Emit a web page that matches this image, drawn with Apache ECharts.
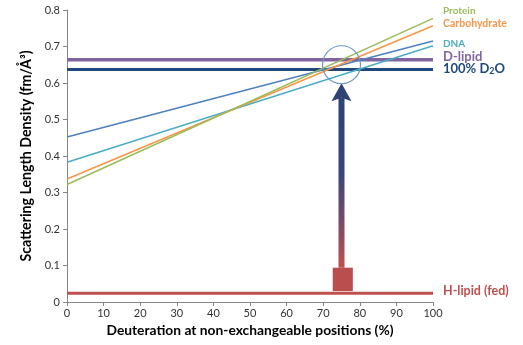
<!DOCTYPE html>
<html>
<head>
<meta charset="utf-8">
<script src="https://cdn.jsdelivr.net/npm/echarts@6/dist/echarts.min.js"></script>
<style>html,body{margin:0;padding:0;background:#fff}#c{width:523px;height:345px}</style>
</head>
<body>
<div id="c"></div>
<script>
// Deuteration (%) endpoints
var xEnds = [0, 100];
// Sloped lines (SLD at 0% and 100% deuteration)
var protein = [0.322, 0.777];
var carbohydrate = [0.337, 0.757];
var dna = [0.383, 0.702];
var otherBlue = [0.452, 0.715];
// Horizontal reference levels
var dLipid = 0.664;
var d2o100 = 0.637;
var hLipid = 0.024;
// Annotation values (data units)
var arrowX = 75;
var arrowBase = 0.094;
var arrowTip = 0.599;
var boxX = [72.6, 78.1];
var boxY = [0.030, 0.094];
var circleCenter = [75, 0.65];
// Axis ticks
var xTicks = [0,10,20,30,40,50,60,70,80,90,100];
var yTicks = [0,0.1,0.2,0.3,0.4,0.5,0.6,0.7,0.8];

function pairs(vals){ return xEnds.map(function(x,i){return [x, vals[i]];}); }
function flat(v){ return xEnds.map(function(x){return [x, v];}); }

var FONT = 'Lato';
var chart = echarts.init(document.getElementById('c'));
var lineBase = {type:'line', symbol:'none', silent:true, animation:false};

chart.setOption({
  animation:false,
  textStyle:{fontFamily:FONT},
  grid:{left:67, right:90, top:10, bottom:43},
  xAxis:{
    type:'value', min:xTicks[0], max:xTicks[xTicks.length-1], interval:10,
    name:'Deuteration at non-exchangeable positions (%)', nameLocation:'middle', nameGap:19,
    nameTextStyle:{fontFamily:FONT, fontWeight:'bold', fontSize:13.8, color:'#000'},
    axisLine:{lineStyle:{color:'#868686', width:1}},
    axisTick:{show:true, length:4, inside:false, lineStyle:{color:'#868686'}},
    axisLabel:{fontSize:11, color:'#333', margin:6},
    splitLine:{show:false}
  },
  yAxis:{
    type:'value', min:yTicks[0], max:yTicks[yTicks.length-1], interval:0.1,
    name:'Scattering Length Density (fm/Å³)', nameLocation:'middle', nameGap:31, nameRotate:90,
    nameTextStyle:{fontFamily:FONT, fontWeight:'bold', fontSize:14.2, color:'#000'},
    axisLine:{show:true, lineStyle:{color:'#868686', width:1}},
    axisTick:{show:true, length:4, lineStyle:{color:'#868686'}},
    axisLabel:{fontSize:11, color:'#333', margin:7, formatter:function(v){return v===0?'0':v.toFixed(1);}},
    splitLine:{show:false}
  },
  series:[
    Object.assign({}, lineBase, {name:'D-lipid', data:flat(dLipid), lineStyle:{color:'#8064A2', width:3.5}, z:2}),
    Object.assign({}, lineBase, {name:'100% D2O', data:flat(d2o100), lineStyle:{color:'#1F497D', width:3.2}, z:2}),
    Object.assign({}, lineBase, {name:'H-lipid (fed)', data:flat(hLipid), lineStyle:{color:'#C0504D', width:3.2}, z:2}),
    Object.assign({}, lineBase, {name:'Series', data:pairs(otherBlue), lineStyle:{color:'#4F81BD', width:1.5}, z:3}),
    Object.assign({}, lineBase, {name:'DNA', data:pairs(dna), lineStyle:{color:'#4BACC6', width:1.5}, z:3}),
    Object.assign({}, lineBase, {name:'Carbohydrate', data:pairs(carbohydrate), lineStyle:{color:'#F79646', width:1.5}, z:3}),
    Object.assign({}, lineBase, {name:'Protein', data:pairs(protein), lineStyle:{color:'#9BBB59', width:1.5}, z:3}),
    {
      type:'custom', silent:true, z:5, animation:false,
      data:[[arrowX, arrowBase]],
      renderItem:function(params, api){
        var base = api.coord([arrowX, arrowBase]);
        var tip = api.coord([arrowX, arrowTip]);
        var b0 = api.coord([boxX[0], boxY[0]]);
        var b1 = api.coord([boxX[1], boxY[1]]);
        var cc = api.coord(circleCenter);
        var headH = 18, headW = 10, notch = 3.5, shaftW = 3;
        var cx = tip[0];
        return {type:'group', children:[
          {type:'rect', shape:{x:b0[0], y:b1[1], width:b1[0]-b0[0], height:b0[1]-b1[1]},
           style:{fill:'#BA4D4D'}},
          {type:'rect', shape:{x:cx-shaftW, y:tip[1]+headH-notch, width:shaftW*2, height:base[1]-(tip[1]+headH-notch)},
           style:{fill:new echarts.graphic.LinearGradient(0,0,0,1,[
             {offset:0,color:'#2E4374'},{offset:0.45,color:'#39457A'},{offset:0.8,color:'#8A4C62'},{offset:1,color:'#BF504F'}])}},
          {type:'polygon', shape:{points:[[cx, tip[1]],[cx+headW, tip[1]+headH],[cx, tip[1]+headH-notch],[cx-headW, tip[1]+headH]]},
           style:{fill:'#2E4374'}},
          {type:'circle', shape:{cx:cc[0], cy:cc[1], r:19},
           style:{fill:null, stroke:'#6A95CE', lineWidth:1.2}}
        ]};
      }
    }
  ],
  graphic:[
    {type:'text', left:443, top:6, style:{text:'Protein', fill:'#9BBB59', font:'bold 10px '+FONT}},
    {type:'text', left:443, top:18, style:{text:'Carbohydrate', fill:'#F79646', font:'bold 10.5px '+FONT}},
    {type:'text', left:443, top:39, style:{text:'DNA', fill:'#4BACC6', font:'bold 10px '+FONT}},
    {type:'text', left:443, top:50, style:{text:'D-lipid', fill:'#8064A2', font:'bold 13px '+FONT}},
    {type:'text', left:443, top:62, style:{
      text:'100% D{s|2}O', fill:'#1F497D', font:'bold 13px '+FONT,
      rich:{s:{fontFamily:FONT, fontWeight:'bold', fontSize:9, fill:'#1F497D', padding:[6,0,0,0]}}}},
    {type:'text', left:443, top:284, style:{text:'H-lipid (fed)', fill:'#C0504D', font:'bold 12.5px '+FONT}}
  ]
});
</script>
</body>
</html>
